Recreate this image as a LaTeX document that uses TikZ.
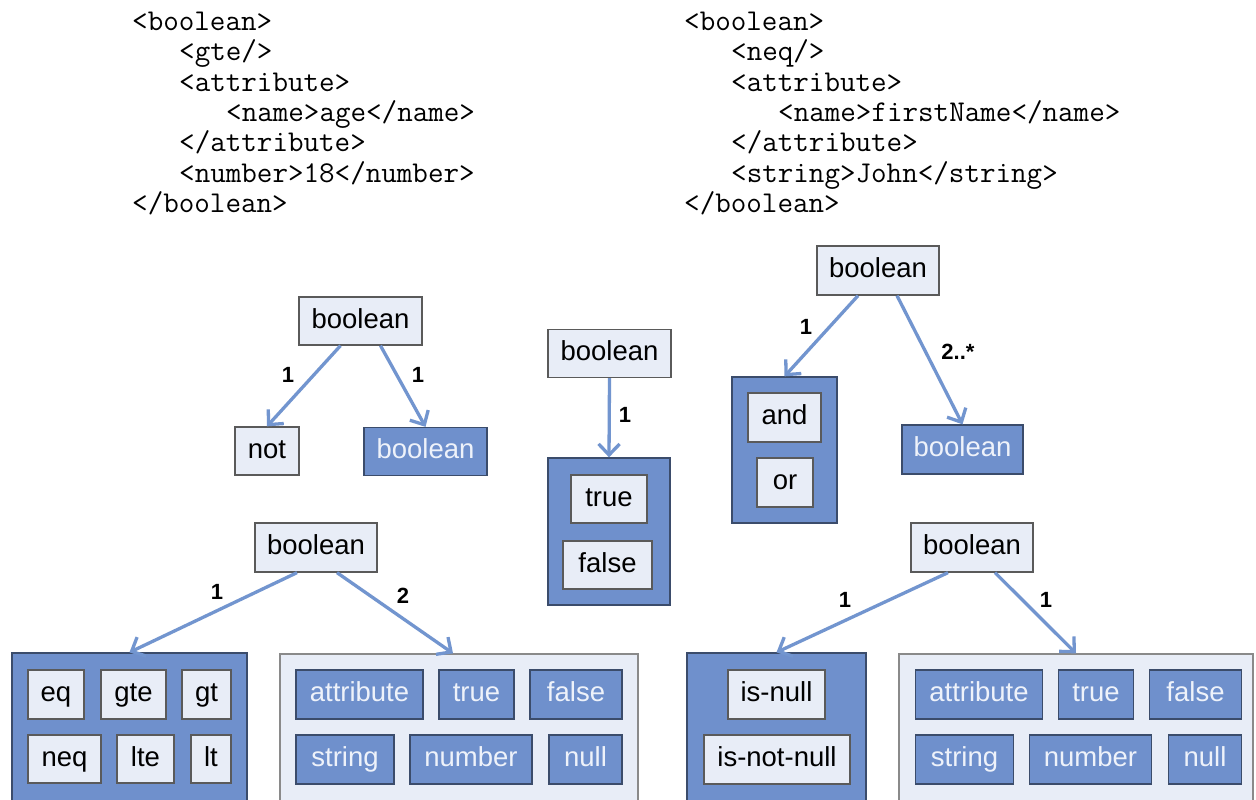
\documentclass[tikz,border=0pt]{standalone}
\usepackage{fontspec}
\setmainfont{Liberation Sans}
\usetikzlibrary{arrows.meta}

\definecolor{paleblue}{HTML}{E8EDF7}
\definecolor{midblue}{HTML}{6F90CC}
\definecolor{arrowblue}{HTML}{7295CF}
\definecolor{lightedge}{HTML}{5A5A5A}
\definecolor{darkedge}{HTML}{3B4C6B}
\definecolor{paleedge}{HTML}{8A8A8A}
\definecolor{palefont}{HTML}{EEF2FA}

\tikzset{
  box/.style={rectangle, inner sep=0pt, line width=1.3pt,
    text height=20pt, text depth=6pt,
    font=\fontsize{27.5}{30}\selectfont},
  lightbox/.style={box, fill=paleblue, draw=lightedge, text=black},
  darkbox/.style={box, fill=midblue, draw=darkedge, text=palefont},
  darkgroup/.style={rectangle, inner sep=0pt, fill=midblue, draw=darkedge, line width=1.3pt},
  palegroup/.style={rectangle, inner sep=0pt, fill=paleblue, draw=paleedge, line width=1.3pt},
  sz/.style 2 args={minimum width=#1pt, minimum height=#2pt},
  link/.style={draw=arrowblue, line width=3.3pt,
    -{Straight Barb[length=11pt,width=21pt]}},
  mult/.style={inner sep=0pt, font=\bfseries\fontsize{22}{24}\selectfont},
  code/.style={anchor=base west, inner sep=0pt,
    font=\ttfamily\fontsize{30.2}{32}\selectfont},
}

\begin{document}
\begin{tikzpicture}[x=1pt, y=-1pt]
  \clip (0,0) rectangle (1256,800);
  \fill[white] (0,0) rectangle (1256,800);

  % XML example: age >= 18
  \node[code] (cl1) at (132,30.5)  {<boolean>};
  \node[code] (cl2) at (179,60.8)  {<gte/>};
  \node[code] (cl3) at (179,91.1)  {<attribute>};
  \node[code] (cl4) at (226,121.4) {<name>age</name>};
  \node[code] (cl5) at (179,151.7) {</attribute>};
  \node[code] (cl6) at (179,182)   {<number>18</number>};
  \node[code] (cl7) at (132,212.3) {</boolean>};

  % XML example: firstName != John
  \node[code] (cr1) at (684,30.5)  {<boolean>};
  \node[code] (cr2) at (731,60.8)  {<neq/>};
  \node[code] (cr3) at (731,91.1)  {<attribute>};
  \node[code] (cr4) at (778,121.4) {<name>firstName</name>};
  \node[code] (cr5) at (731,151.7) {</attribute>};
  \node[code] (cr6) at (731,182)   {<string>John</string>};
  \node[code] (cr7) at (684,212.3) {</boolean>};

  % negation
  \node[lightbox, sz={123}{48}] (neg) at (360.5,321) {boolean};
  \node[lightbox, sz={64}{48}] (notop) at (267,451) {not};
  \node[darkbox, sz={123}{48}] (negarg) at (425.5,451.5) {boolean};
  \draw[link] ([xshift=-20pt]neg.south) -- (notop.north);
  \draw[link] ([xshift=20pt]neg.south) -- (negarg.north);
  \node[mult] (mneg1) at (288,375) {1};
  \node[mult] (mneg2) at (418,375) {1};

  % constant
  \node[lightbox, sz={123}{48}] (const) at (609.5,353.5) {boolean};
  \node[darkgroup, sz={122}{147}] (tfgrp) at (609,531.5) {};
  \node[lightbox, sz={76}{48}] (ctrue) at (609,499) {true};
  \node[lightbox, sz={89}{48}] (cfalse) at (607.5,565) {false};
  \draw[link] (const.south) -- (tfgrp.north);
  \node[mult] (mconst) at (625,415) {1};

  % conjunction / disjunction
  \node[lightbox, sz={122}{49}] (logic) at (878,270.5) {boolean};
  \node[darkgroup, sz={105}{146}] (aogrp) at (784.5,450) {};
  \node[lightbox, sz={73}{49}] (opand) at (784.5,417.5) {and};
  \node[lightbox, sz={56}{49}] (opor) at (785,482.5) {or};
  \node[darkbox, sz={121}{49}] (logarg) at (962.5,449.5) {boolean};
  \draw[link] ([xshift=-20pt]logic.south) -- (aogrp.north);
  \draw[link] ([xshift=19pt]logic.south) -- (logarg.north);
  \node[mult] (mlog1) at (806,327) {1};
  \node[mult] (mlog2) at (958,352) {2..*};

  % comparison
  \node[lightbox, sz={122}{49}] (cmp) at (316,547.5) {boolean};
  \node[darkgroup, sz={235}{160}] (cmpgrp) at (129.5,733) {};
  \node[lightbox, sz={56}{49}] (opeq) at (56,694.5) {eq};
  \node[lightbox, sz={65}{49}] (opgte) at (133.5,694.5) {gte};
  \node[lightbox, sz={49}{49}] (opgt) at (206.5,694.5) {gt};
  \node[lightbox, sz={73}{48}] (opneq) at (64.5,759) {neq};
  \node[lightbox, sz={57}{48}] (oplte) at (145.5,759) {lte};
  \node[lightbox, sz={40}{48}] (oplt) at (211,759) {lt};
  \node[palegroup, sz={358}{160}] (valgrp) at (459,734) {};
  \node[darkbox, sz={127}{49}] (va) at (359.5,694.5) {attribute};
  \node[darkbox, sz={75}{49}] (vt) at (476.5,694.5) {true};
  \node[darkbox, sz={92}{49}] (vf) at (576,694.5) {false};
  \node[darkbox, sz={98}{49}] (vs) at (345,759.5) {string};
  \node[darkbox, sz={122}{49}] (vn) at (471,759.5) {number};
  \node[darkbox, sz={73}{49}] (vz) at (585.5,759.5) {null};
  \draw[link] ([xshift=-19pt]cmp.south) -- (cmpgrp.north);
  \draw[link] ([xshift=21pt]cmp.south) -- ([xshift=-6pt]valgrp.north);
  \node[mult] (mcmp1) at (217,592) {1};
  \node[mult] (mcmp2) at (403,596) {2};

  % null test
  \node[lightbox, sz={122}{49}] (nul) at (972,547.5) {boolean};
  \node[darkgroup, sz={179}{160}] (nulgrp) at (776.5,733) {};
  \node[lightbox, sz={97}{49}] (isnull) at (776.5,694.5) {is-null};
  \node[lightbox, sz={146}{49}] (isnotnull) at (777,759.5) {is-not-null};
  \node[palegroup, sz={354}{160}] (valgrpb) at (1076,734) {};
  \node[darkbox, sz={127}{49}] (vab) at (979,694.5) {attribute};
  \node[darkbox, sz={75}{49}] (vtb) at (1096,694.5) {true};
  \node[darkbox, sz={92}{49}] (vfb) at (1195.5,694.5) {false};
  \node[darkbox, sz={98}{49}] (vsb) at (964.5,759.5) {string};
  \node[darkbox, sz={122}{49}] (vnb) at (1090.5,759.5) {number};
  \node[darkbox, sz={73}{49}] (vzb) at (1205,759.5) {null};
  \draw[link] ([xshift=-24pt]nul.south) -- (nulgrp.north);
  \draw[link] ([xshift=23pt]nul.south) -- (valgrpb.north);
  \node[mult] (mnul1) at (845,600) {1};
  \node[mult] (mnul2) at (1046,600) {1};
\end{tikzpicture}
\end{document}
